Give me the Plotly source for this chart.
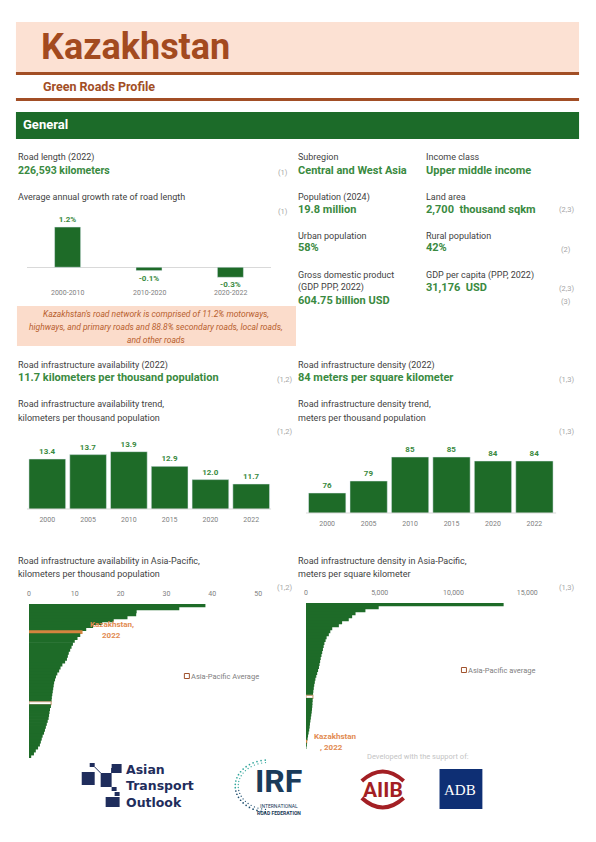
import math
import plotly.graph_objects as go

W, H = 596, 842
def X(x): return x / W
def Y(y): return 1 - y / H

FONT = "Roboto, Arial, sans-serif"
GREEN = "#1E6B28"
GREEN_TXT = "#3A8A41"
LABEL = "#3F3F3F"
REF = "#A6A6A6"
BROWN = "#A24E25"
ORANGE_BAR = "#D4843F"
ORANGE_TXT = "#E28B52"
TICK = "#808080"

# ---------------- data ----------------
growth_periods = ["2000-2010", "2010-2020", "2020-2022"]
growth_rates = [1.2, -0.1, -0.3]

trend_years = ["2000", "2005", "2010", "2015", "2020", "2022"]
availability_trend = [13.4, 13.7, 13.9, 12.9, 12.0, 11.7]
density_trend = [76, 79, 85, 85, 84, 84]

# Asia-Pacific availability (km per thousand population), sorted descending
ap_availability = [38.5, 32.8, 23.5, 23.4, 21.5, 18.5, 16.0, 14.0, 12.5, 11.7,
                   11.2, 10.6, 10.0, 9.6, 9.3, 9.0, 8.7, 8.5, 8.3, 7.9,
                   7.3, 6.9, 6.6, 6.2, 5.9, 5.7, 5.5, 5.4, 5.3, 5.2,
                   5.1, 5.0, 4.95, 4.85, 4.8, 4.6, 4.5, 4.4, 4.3, 4.1,
                   3.9, 3.7, 3.5, 3.3, 3.0, 2.8, 2.6, 2.4, 2.0, 1.5,
                   1.1, 0.5]
ap_availability_role = ["other"] * len(ap_availability)
ap_availability_role[9] = "kaz"
ap_availability_role[33] = "avg"

# Asia-Pacific density (m per sq km), sorted descending
ap_density = [13400, 4930, 4030, 3360, 3130, 2900, 2450, 2230, 1780, 1650,
              1550, 1400, 1330, 1250, 1200, 1150, 1100, 1050, 1000, 960,
              920, 880, 820, 760, 700, 640, 600, 560, 530, 500,
              480, 470, 455, 440, 430, 410, 390, 360, 330, 300,
              270, 250, 220, 180, 140, 110, 84, 60, 30]
ap_density_role = ["other"] * len(ap_density)
ap_density_role[31] = "avg"
ap_density_role[46] = "kaz"

role_fill = {"other": GREEN, "kaz": ORANGE_BAR, "avg": "#FFFFFF"}
role_line = {"other": GREEN, "kaz": ORANGE_BAR, "avg": "#C9A27E"}
role_lw = {"other": 0, "kaz": 0, "avg": 1.2}
role_w = {"other": 1.25, "kaz": 1.25, "avg": 1.0}

fig = go.Figure()

# growth rate
fig.add_trace(go.Bar(
    x=growth_periods, y=growth_rates, width=0.32, marker_color=GREEN,
    texttemplate="<b>%{y:.1f}%</b>", textposition="outside", cliponaxis=False,
    textfont=dict(size=8, color=GREEN_TXT, family=FONT),
    xaxis="x", yaxis="y", hoverinfo="skip"))

# availability trend
fig.add_trace(go.Bar(
    x=trend_years, y=availability_trend, width=0.9, marker_color=GREEN,
    texttemplate="<b>%{y:.1f}</b>", textposition="outside",
    textfont=dict(size=8, color=GREEN_TXT, family=FONT),
    xaxis="x2", yaxis="y2", hoverinfo="skip"))

# density trend
fig.add_trace(go.Bar(
    x=trend_years, y=density_trend, width=0.9, marker_color=GREEN,
    texttemplate="<b>%{y:.0f}</b>", textposition="outside",
    textfont=dict(size=8, color=GREEN_TXT, family=FONT),
    xaxis="x3", yaxis="y3", hoverinfo="skip"))

# Asia-Pacific availability
fig.add_trace(go.Bar(
    x=ap_availability, y=list(range(len(ap_availability))), orientation="h",
    width=[role_w[r] for r in ap_availability_role],
    marker=dict(color=[role_fill[r] for r in ap_availability_role],
                line=dict(color=[role_line[r] for r in ap_availability_role],
                          width=[role_lw[r] for r in ap_availability_role])),
    xaxis="x4", yaxis="y4", hoverinfo="skip"))

# Asia-Pacific density
fig.add_trace(go.Bar(
    x=ap_density, y=list(range(len(ap_density))), orientation="h",
    width=[role_w[r] for r in ap_density_role],
    marker=dict(color=[role_fill[r] for r in ap_density_role],
                line=dict(color=[role_line[r] for r in ap_density_role],
                          width=[role_lw[r] for r in ap_density_role])),
    xaxis="x5", yaxis="y5", hoverinfo="skip"))


def ax(domain, **kw):
    d = dict(domain=domain, showgrid=False, zeroline=False, showticklabels=False,
             ticks="", showline=False, fixedrange=True)
    d.update(kw)
    return d

tickfont = dict(size=7, color=TICK, family=FONT)

layout_axes = dict(
    xaxis=ax([X(25), X(270)], range=[-0.5, 2.5], anchor="y"),
    yaxis=ax([Y(284), Y(217)], range=[-0.5, 1.5], anchor="x", zeroline=True,
             zerolinecolor="#D9D9D9", zerolinewidth=1),
    xaxis2=ax([X(25), X(270.5)], range=[-0.5, 5.5], anchor="y2", showticklabels=True,
              tickfont=tickfont, ticklabelstandoff=5),
    yaxis2=ax([Y(509), Y(435.5)], range=[10, 15], anchor="x2"),
    xaxis3=ax([X(305.5), X(555)], range=[-0.5, 5.5], anchor="y3", showticklabels=True,
              tickfont=tickfont, ticklabelstandoff=5),
    yaxis3=ax([Y(513), Y(437)], range=[71, 90], anchor="x3"),
    xaxis4=ax([X(27), X(280)], range=[0, 55], anchor="y4", side="top", showticklabels=True,
              tickvals=[0, 10, 20, 30, 40, 50], tickfont=tickfont, ticklabelstandoff=6),
    yaxis4=ax([Y(758), Y(604)], range=[len(ap_availability) - 0.5, -0.5], anchor="x4"),
    xaxis5=ax([X(305), X(556.6)], range=[0, 17000], anchor="y5", side="top", showticklabels=True,
              tickvals=[0, 5000, 10000, 15000], tickformat=",", tickfont=tickfont,
              ticklabelstandoff=6),
    yaxis5=ax([Y(749), Y(603)], range=[len(ap_density) - 0.5, -0.5], anchor="x5"),
)

shapes = []
def rect(x0, y0, x1, y1, fill, line=None, lw=0):
    shapes.append(dict(type="rect", xref="paper", yref="paper",
                       x0=X(x0), x1=X(x1), y0=Y(y1), y1=Y(y0),
                       fillcolor=fill, line=dict(color=line or fill, width=lw), layer="below"))

def hline(x0, x1, y, color, w=1):
    shapes.append(dict(type="line", xref="paper", yref="paper", x0=X(x0), x1=X(x1),
                       y0=Y(y), y1=Y(y), line=dict(color=color, width=w)))

# header
rect(14, 22, 579, 72, "#FCE1D3")
rect(14, 72, 579, 75, BROWN)
rect(14, 98, 579, 101, BROWN)
rect(14, 112, 579, 139, "#1C6B29")
# note box
rect(15, 306, 295, 346, "#FBDCCB")
# baselines for trend charts
hline(25, 270, 509, "#D9D9D9", 1)
hline(305, 556, 513, "#D9D9D9", 1)
# legend squares
shapes.append(dict(type="rect", xref="paper", yref="paper", x0=X(183), x1=X(188),
                   y0=Y(678.5), y1=Y(673.5), fillcolor="white", line=dict(color="#A0522D", width=1)))
shapes.append(dict(type="rect", xref="paper", yref="paper", x0=X(461), x1=X(466),
                   y0=Y(672.5), y1=Y(667.5), fillcolor="white", line=dict(color="#A0522D", width=1)))

# ---- logos (decorative) ----
NAVY = "#1F2D5C"
for (x0, y0, x1, y1) in [(88, 763, 93, 767), (110, 764, 120, 773), (80, 772, 93, 785),
                         (99, 773, 110, 787), (110, 787, 115, 791), (113, 792, 118, 796),
                         (104, 797, 118, 807)]:
    rect(x0, y0, x1, y1, NAVY)
shapes.append(dict(type="line", xref="paper", yref="paper", x0=X(93), y0=Y(767), x1=X(99),
                   y1=Y(773), line=dict(color=NAVY, width=1)))
shapes.append(dict(type="line", xref="paper", yref="paper", x0=X(110), y0=Y(773), x1=X(110),
                   y1=Y(768), line=dict(color=NAVY, width=1)))
# IRF dotted arc
cx, cy = 267, 786
for ring, (rx_, ry_) in enumerate([(33, 26), (30, 23.5)]):
    n = 24
    for i in range(n):
        th = math.radians(95 + i * (170 / (n - 1)))
        px_ = cx + rx_ * math.cos(th)
        py_ = cy - ry_ * math.sin(th)
        t = i / (n - 1)
        col = "#2FA59A" if t < 0.55 else "#1F4E6E"
        rr = 0.85 if ring == 0 else 0.65
        shapes.append(dict(type="circle", xref="paper", yref="paper",
                           x0=X(px_ - rr), x1=X(px_ + rr), y0=Y(py_ + rr), y1=Y(py_ - rr),
                           fillcolor=col, line=dict(width=0)))
# AIIB arcs
AIIB = "#A31F24"
def arc_path(x0, xm, x1, ya, yc):
    return (f"M {X(x0)},{Y(ya)} Q {X(xm)},{Y(yc)} {X(x1)},{Y(ya)}")
shapes.append(dict(type="path", xref="paper", yref="paper", path=arc_path(361, 382, 403, 781, 762),
                   line=dict(color=AIIB, width=4)))
shapes.append(dict(type="path", xref="paper", yref="paper", path=arc_path(361, 382, 403, 798, 817),
                   line=dict(color=AIIB, width=4)))
# ADB box
rect(439, 769, 482, 809, "#0E2F74")

ann = []
def T(x, y, text, size=9, color=LABEL, bold=False, italic=False, anchor="left", family=FONT):
    if bold:
        text = f"<b>{text}</b>"
    if italic:
        text = f"<i>{text}</i>"
    ann.append(dict(x=X(x), y=Y(y), xref="paper", yref="paper", text=text, showarrow=False,
                    xanchor=anchor, yanchor="middle", borderpad=0, align=anchor if anchor != "center" else "center",
                    font=dict(size=size, color=color, family=family)))

# header texts
T(38, 47, "Kazakhstan", size=36, color="#A34A1F", bold=True)
T(40, 86, "Green Roads Profile", size=12.5, color=BROWN, bold=True)
T(20, 125, "General", size=13, color="white", bold=True)

VAL = 11
LX = 15
RX = 296
# left column general
T(LX, 157, "Road length (2022)")
T(LX, 170, "226,593 kilometers", size=10.5, color=GREEN_TXT, bold=True)
T(282, 172, "(1)", size=7.5, color=REF, anchor="center")
T(LX, 197, "Average annual growth rate of road length")
T(282, 211, "(1)", size=7.5, color=REF, anchor="center")
for p in growth_periods:
    ann.append(dict(x=p, y=Y(293), xref="x", yref="paper", text=p, showarrow=False,
                    xanchor="center", yanchor="middle", font=dict(size=7, color=TICK, family=FONT)))
note_lines = ["Kazakhstan's road network is comprised of 11.2% motorways,",
              "highways, and primary roads and 88.8% secondary roads, local roads,",
              "and other roads"]
for i, ln in enumerate(note_lines):
    T(155, 314 + 13 * i, ln, size=8.5, color="#B8602E", italic=True, anchor="center")

# right column general
T(RX, 157, "Subregion")
T(RX, 170, "Central and West Asia", size=VAL, color=GREEN_TXT, bold=True)
T(424, 157, "Income class")
T(424, 170, "Upper middle income", size=VAL, color=GREEN_TXT, bold=True)
T(RX, 197, "Population (2024)")
T(RX, 209, "19.8 million", size=VAL, color=GREEN_TXT, bold=True)
T(424, 197, "Land area")
T(424, 209, "2,700  thousand sqkm", size=VAL, color=GREEN_TXT, bold=True)
T(566, 210, "(2,3)", size=7.5, color=REF, anchor="center")
T(RX, 236, "Urban population")
T(RX, 248, "58%", size=VAL, color=GREEN_TXT, bold=True)
T(424, 236, "Rural population")
T(424, 248, "42%", size=VAL, color=GREEN_TXT, bold=True)
T(566, 249, "(2)", size=7.5, color=REF, anchor="center")
T(RX, 275, "Gross domestic product")
T(RX, 287, "(GDP PPP, 2022)")
T(RX, 300, "604.75 billion USD", size=VAL, color=GREEN_TXT, bold=True)
T(424, 275, "GDP per capita (PPP, 2022)")
T(424, 287, "31,176  USD", size=VAL, color=GREEN_TXT, bold=True)
T(566, 288, "(2,3)", size=7.5, color=REF, anchor="center")
T(566, 301, "(3)", size=7.5, color=REF, anchor="center")

# section 2
T(LX, 365, "Road infrastructure availability (2022)")
T(LX, 378, "11.7 kilometers per thousand population", size=11, color=GREEN_TXT, bold=True)
T(283, 379, "(1,2)", size=7.5, color=REF, anchor="center")
T(LX, 404, "Road infrastructure availability trend,")
T(LX, 418, "kilometers per thousand population")
T(283, 431, "(1,2)", size=7.5, color=REF, anchor="center")
T(RX, 365, "Road infrastructure density (2022)")
T(RX, 378, "84 meters per square kilometer", size=11, color=GREEN_TXT, bold=True)
T(566, 379, "(1,3)", size=7.5, color=REF, anchor="center")
T(RX, 404, "Road infrastructure density trend,")
T(RX, 418, "meters per thousand population")
T(566, 431, "(1,3)", size=7.5, color=REF, anchor="center")

# section 3
T(LX, 561, "Road infrastructure availability in Asia-Pacific,")
T(LX, 574, "kilometers per thousand population")
T(283, 587, "(1,2)", size=7.5, color=REF, anchor="center")
T(RX, 561, "Road infrastructure density in Asia-Pacific,")
T(RX, 574, "meters per square kilometer")
T(566, 587, "(1,3)", size=7.5, color=REF, anchor="center")
T(110, 624, "Kazakhstan,", size=8, color=ORANGE_TXT, bold=True, anchor="center")
T(110, 635, "2022", size=8, color=ORANGE_TXT, bold=True, anchor="center")
T(312, 736, "Kazakhstan", size=8, color=ORANGE_TXT, bold=True)
T(318, 747, ", 2022", size=8, color=ORANGE_TXT, bold=True)
T(189, 676, "Asia-Pacific Average", size=7.5, color=TICK)
T(467, 670, "Asia-Pacific average", size=7.5, color=TICK)

# footer
T(365, 756, "Developed with the support of:", size=7.5, color="#C4C4C4")
T(123, 786, "<b>Asian<br>Transport<br>Outlook</b>", size=12.5, color=NAVY,
  family="DejaVu Sans, sans-serif")
T(277, 781, "IRF", size=32, color="#1B3B5A", bold=True, anchor="center")
T(278, 809, "INTERNATIONAL<br><b>ROAD FEDERATION</b>", size=5, color="#1B3B5A", anchor="center")
T(382, 790, "AIIB", size=21, color=AIIB, bold=True, anchor="center")
T(460, 790, "ADB", size=15, color="white", anchor="center", family="Liberation Serif, serif")

fig.update_layout(
    width=W, height=H, autosize=False, margin=dict(l=0, r=0, t=0, b=0),
    paper_bgcolor="white", plot_bgcolor="white", showlegend=False,
    shapes=shapes, annotations=ann, font=dict(family=FONT),
    **layout_axes)

fig.write_html("out.html", config={"displayModeBar": False, "staticPlot": True},
               post_script="document.body.style.margin='0';")
